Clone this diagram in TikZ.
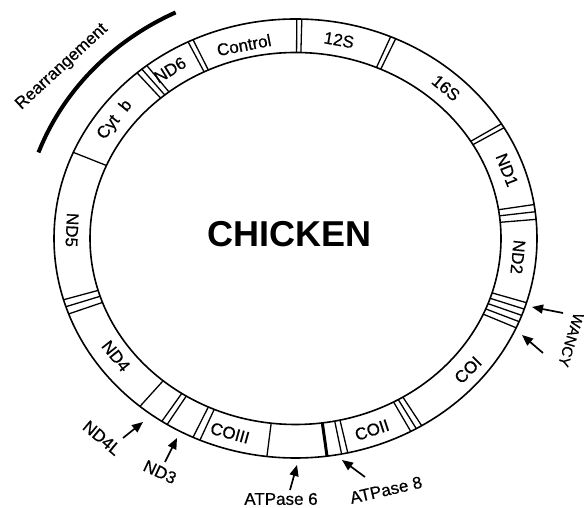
\documentclass[tikz,border=0pt]{standalone}
\usepackage{fontspec}
\setmainfont{Liberation Sans}
\newfontfamily\labfont{Liberation Sans}[FakeBold=0.5]
\usetikzlibrary{arrows.meta}
\def\cx{295.5}
\def\cy{269.5}
\begin{document}
\begin{tikzpicture}[x=1pt,y=1pt,
  ring/.style={line width=1.6pt},
  sepline/.style={line width=1.3pt},
  thicksep/.style={line width=3pt},
  lab/.style={font=\labfont\fontsize{17}{17}\selectfont, inner sep=0pt},
  smalllab/.style={font=\labfont\fontsize{15}{15}\selectfont, inner sep=0pt},
  title/.style={font=\fontsize{36}{36}\selectfont\bfseries, inner sep=0pt},
  ptr/.style={line width=1.7pt, -{Triangle[length=11pt,width=9pt]}},
  rearr/.style={line width=4pt},
]
\useasboundingbox (0,0) rectangle (586,508);
% ring
\draw[ring] (\cx,\cy) ellipse[x radius=241.5, y radius=219.5];
\draw[ring] (\cx,\cy) ellipse[x radius=205.5, y radius=186];
% separators
\foreach \a in {89.7,88.5, 66.8,65.5, 31.5,30.3, 8.9,7.0,5.0,
  -17,-18.75,-20.5,-22.25,-24, -61.5,-60,-58.5, -79,-77.5, -96.8,
  -115.1,-113.3, -123.6,-122.1, -130.1, -163.8,-161.9,-159.9,
  156.9, 131,129.5,128, 116.4,115.1}
  \draw[sepline] ({\cx+205.5*cos(\a)},{\cy+186*sin(\a)}) -- ({\cx+241.5*cos(\a)},{\cy+219.5*sin(\a)});
\draw[thicksep] ({\cx+205.5*cos(-82.5)},{\cy+186*sin(-82.5)}) -- ({\cx+241.5*cos(-82.5)},{\cy+219.5*sin(-82.5)});
% rearrangement arc
\draw[rearr] ({\cx+273.5*cos(116)},{\cy+251.5*sin(116)}) arc[start angle=116, end angle=160, x radius=273.5, y radius=251.5];
\node[lab, rotate=42.7] (lRearr) at (62,441) {Rearrangement};
% title
\node[title] (lChicken) at (289.5,273.5) {CHICKEN};
% ring labels
\node[lab, rotate=11] (lControl) at (244,463) {Control};
\node[lab, rotate=-10] (l12S) at (339,468) {12S};
\node[lab, rotate=-39.5] (l16S) at (446,420) {16S};
\node[lab, rotate=-68.4] (lND1) at (507,338) {ND1};
\node[lab, rotate=-95.7] (lND2) at (518,251) {ND2};
\node[lab, rotate=45] (lCOI) at (468,138) {COI};
\node[lab, rotate=18.3] (lCOII) at (372,78) {COII};
\node[lab, rotate=-15.5] (lCOIII) at (230,75) {COIII};
\node[lab, rotate=-51.5] (lND4) at (116,152) {ND4};
\node[lab, rotate=-92.6] (lND5) at (72,278) {ND5};
\node[lab, rotate=51.4] (lCytb) at (115,388) {Cyt\hspace{0.6em}b};
\node[lab, rotate=31.5] (lND6) at (170,438) {ND6};
% external labels
\node[lab, rotate=-40] (lND4L) at (102,70) {ND4L};
\node[lab, rotate=-25] (lND3) at (160,36) {ND3};
\node[lab] (lATP6) at (281,9) {ATPase 6};
\node[lab, rotate=13] (lATP8) at (386,18) {ATPase 8};
\node[smalllab, rotate=-107] (lWANCY) at (571,168) {WANCY};
% arrows
\coordinate (tND4L) at (123,70);  \coordinate (hND4L) at (143,86);
\coordinate (tND3) at (165,46);   \coordinate (hND3) at (177,70);
\coordinate (tATP6) at (290,18);  \coordinate (hATP6) at (297,43);
\coordinate (tATP8) at (365,31);  \coordinate (hATP8) at (342,48);
\coordinate (tW1) at (563,195);   \coordinate (hW1) at (532,201);
\coordinate (tW2) at (543,155);   \coordinate (hW2) at (522,173);
\draw[ptr] (tND4L) -- (hND4L);
\draw[ptr] (tND3) -- (hND3);
\draw[ptr] (tATP6) -- (hATP6);
\draw[ptr] (tATP8) -- (hATP8);
\draw[ptr] (tW1) -- (hW1);
\draw[ptr] (tW2) -- (hW2);
\end{tikzpicture}
\end{document}
